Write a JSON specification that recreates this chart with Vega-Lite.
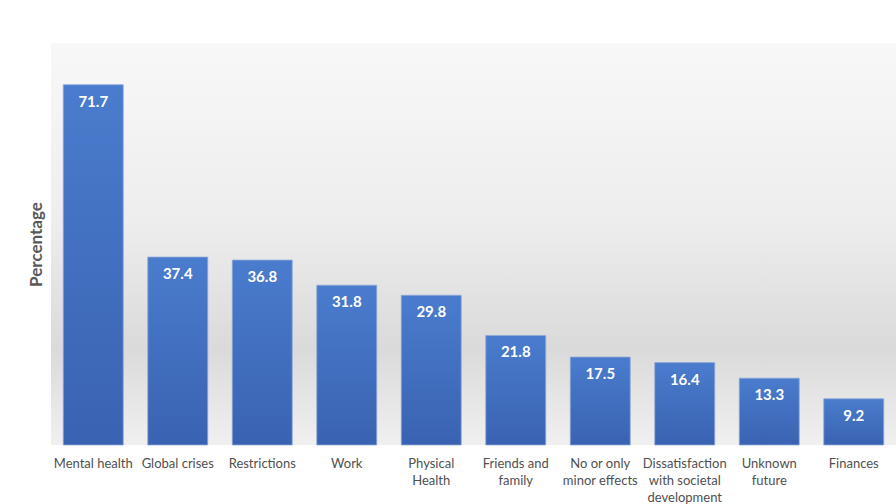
{
  "$schema": "https://vega.github.io/schema/vega-lite/v6.json",
  "width": 845,
  "height": 402,
  "autosize": "none",
  "padding": {"left": 51, "top": 43, "right": 0, "bottom": 59},
  "background": "white",
  "config": {
    "view": {
      "stroke": null,
      "fill": {
        "gradient": "linear",
        "x1": 0, "y1": 0, "x2": 0, "y2": 1,
        "stops": [
          {"offset": 0, "color": "#f8f8f8"},
          {"offset": 0.45, "color": "#ededed"},
          {"offset": 0.76, "color": "#dadada"},
          {"offset": 1, "color": "#f0f0f0"}
        ]
      }
    },
    "font": "Lato"
  },
  "data": {
    "values": [
      {"category": "Mental health", "pct": 71.7},
      {"category": "Global crises", "pct": 37.4},
      {"category": "Restrictions", "pct": 36.8},
      {"category": "Work", "pct": 31.8},
      {"category": "Physical Health", "pct": 29.8},
      {"category": "Friends and family", "pct": 21.8},
      {"category": "No or only minor effects", "pct": 17.5},
      {"category": "Dissatisfaction with societal development", "pct": 16.4},
      {"category": "Unknown future", "pct": 13.3},
      {"category": "Finances", "pct": 9.2}
    ]
  },
  "encoding": {
    "x": {
      "field": "category",
      "type": "nominal",
      "sort": null,
      "scale": {"paddingInner": 0.29, "paddingOuter": 0.145},
      "axis": {
        "title": null,
        "domain": false,
        "ticks": false,
        "labelAngle": 0,
        "labelFont": "Lato",
        "labelFontSize": 13,
        "labelColor": "#505050",
        "labelPadding": 12,
        "labelLineHeight": 17,
        "labelLimit": 200,
        "labelExpr": "datum.value == 'Physical Health' ? ['Physical', 'Health'] : datum.value == 'Friends and family' ? ['Friends and', 'family'] : datum.value == 'No or only minor effects' ? ['No or only', 'minor effects'] : datum.value == 'Dissatisfaction with societal development' ? ['Dissatisfaction', 'with societal', 'development'] : datum.value == 'Unknown future' ? ['Unknown', 'future'] : datum.value"
      }
    },
    "y": {
      "field": "pct",
      "type": "quantitative",
      "scale": {"domain": [0, 80], "nice": false},
      "axis": {
        "title": "Percentage",
        "titleFont": "Lato",
        "titleFontSize": 17,
        "titleFontWeight": "bold",
        "titleColor": "#595959",
        "titlePadding": 6,
        "labels": false,
        "ticks": false,
        "domain": false,
        "grid": false
      }
    }
  },
  "layer": [
    {
      "mark": {
        "type": "bar",
        "stroke": "#8fa8d8",
        "strokeWidth": 0.8,
        "color": {
          "gradient": "linear",
          "x1": 0, "y1": 0, "x2": 0, "y2": 1,
          "stops": [
            {"offset": 0, "color": "#4a7ccd"},
            {"offset": 1, "color": "#3a62b2"}
          ]
        }
      }
    },
    {
      "mark": {
        "type": "text",
        "baseline": "middle",
        "dy": 17,
        "color": "white",
        "font": "Lato",
        "fontSize": 15,
        "fontWeight": "bold"
      },
      "encoding": {
        "text": {"field": "pct", "type": "quantitative", "format": ".1f"}
      }
    }
  ]
}
